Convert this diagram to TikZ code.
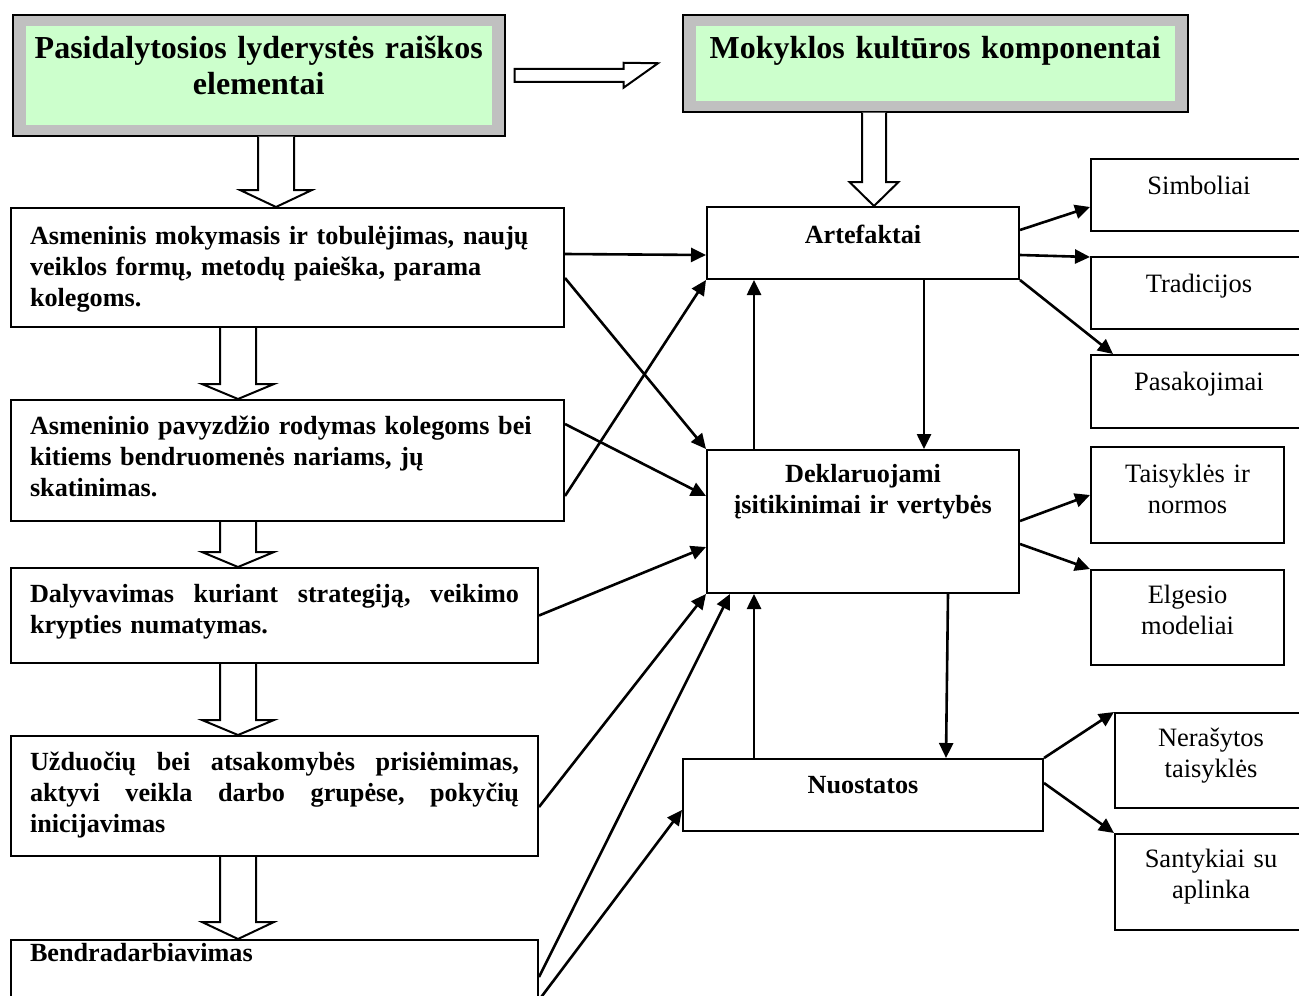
\documentclass[tikz,border=0pt]{standalone}
\usepackage{fontspec}
\setmainfont{Liberation Serif}
\usetikzlibrary{arrows.meta,positioning,calc}
\definecolor{framegray}{HTML}{C0C0C0}
\definecolor{mint}{HTML}{CCFFCC}

\begin{document}
\begin{tikzpicture}[x=1pt,y=-1pt,
lbox/.style={draw,line width=2pt,anchor=north west,inner xsep=19pt,inner ysep=0pt,text height=34pt,align=left,font=\bfseries\fontsize{26.2}{31}\selectfont},
cbox/.style={lbox,align=center,inner xsep=6pt},
tbox/.style={cbox,font=\fontsize{26.5}{31}\selectfont},
ttl/.style={draw,line width=1.5pt,fill=framegray,anchor=north west,inner xsep=14pt,inner ysep=0pt,text height=44pt,align=center,font=\bfseries\fontsize{32}{36}\selectfont,
  path picture={\fill[mint] ([shift={(13pt,-11pt)}]path picture bounding box.north west) rectangle ([shift={(-13pt,11pt)}]path picture bounding box.south east);}},
arr/.style={-{Triangle[length=15pt,width=14pt]},line width=2.6pt},
hollow/.style={draw,fill=white,line width=2pt,line join=miter}]
\useasboundingbox (0,0) rectangle (1299,996);
\node[ttl,text width=464pt,text depth=77pt] (tit1) at (12,14) {Pasidalytosios lyderystės raiškos\\elementai};
\node[ttl,text width=477pt,text depth=53pt] (tit2) at (682,14) {Mokyklos kultūros komponentai};
\node[lbox,text width=515pt,text height=36pt,text depth=83pt] (l1) at (10,207) {Asmeninis mokymasis ir tobulėjimas, naujų\\veiklos formų, metodų paieška, parama\\kolegoms.};
\node[lbox,text width=515pt,text depth=87pt,below=71pt of l1] (l2) {\makebox[515pt][l]{Asmeninio pavyzdžio rodymas kolegoms bei}\\kitiems bendruomenės nariams, jų\\skatinimas.};
\node[lbox,text width=489pt,text depth=61pt] (l3) at (10,567) {\makebox[489pt][s]{Dalyvavimas\hfill kuriant\hfill strategiją,\hfill veikimo}\\krypties numatymas.};
\node[lbox,text width=489pt,text depth=86pt,below=71pt of l3] (l4) {\makebox[489pt][s]{Užduočių\hfill bei\hfill atsakomybės\hfill prisiėmimas,}\\\makebox[489pt][s]{aktyvi\hfill veikla\hfill darbo\hfill grupėse,\hfill pokyčių}\\inicijavimas};
\node[lbox,text width=489pt,text height=21pt,text depth=59pt,below=82pt of l4] (l5) {Bendradarbiavimas};
\node[cbox,text width=300pt,text height=36pt,text depth=36pt] (art) at (706,206) {Artefaktai};
\node[cbox,text width=300pt,text height=32pt,text depth=111pt,below=169pt of art] (dek) {Deklaruojami\\įsitikinimai ir vertybės};
\node[cbox,text width=348pt,text depth=38pt] (nuo) at (682,758) {Nuostatos};
\node[tbox,text width=204pt,text height=35pt,text depth=37pt] (simb) at (1090,158) {Simboliai};
\node[tbox,text width=204pt,text height=35pt,text depth=37pt,below=24pt of simb] (trad) {Tradicijos};
\node[tbox,text width=204pt,text height=35pt,text depth=38pt,below=24pt of trad] (pasak) {Pasakojimai};
\node[tbox,text width=181pt,text height=35pt,text depth=61pt] (tais) at (1090,446) {Taisyklės ir\\normos};
\node[tbox,text width=181pt,text height=33pt,text depth=62pt,below=25pt of tais] (elg) {Elgesio\\modeliai};
\node[tbox,text width=180pt,text height=33pt,text depth=62pt] (ner) at (1114,712) {Nerašytos\\taisyklės};
\node[tbox,text width=180pt,text height=33pt,text depth=63pt,below=24pt of ner] (sant) {Santykiai su\\aplinka};
\foreach \src/\dst/\ax/\sw/\hw/\hl in {tit1/l1/276/18/36/17, l1/l2/238/18/36/15, l2/l3/238/18/36/15, l3/l4/238/18/36/15, l4/l5/238/18/36/17, tit2/art/874/12/24.5/24}{
  \coordinate (c) at (\ax,0);
  \draw[hollow] ($(c |- \src.south)+(-\sw,0)$) -- ($(c |- \dst.north)+(-\sw,-\hl)$) -- ($(c |- \dst.north)+(-\hw,-\hl)$) -- (c |- \dst.north) -- ($(c |- \dst.north)+(\hw,-\hl)$) -- ($(c |- \dst.north)+(\sw,-\hl)$) -- ($(c |- \src.south)+(\sw,0)$);
}
\draw[hollow] ($(tit1.east)+(9,-6.5)$) -- ($(tit1.east)+(118,-6.5)$) -- ($(tit1.east)+(118,-12.5)$) -- ($(tit2.west)+(-24,0)$) -- ($(tit1.east)+(118,12.5)$) -- ($(tit1.east)+(118,6.5)$) -- ($(tit1.east)+(9,6.5)$) -- cycle;
\draw[arr] ([yshift=-47pt]l1.north east) -- ([yshift=-12pt]art.west);
\draw[arr] ([yshift=-71pt]l1.north east) -- (dek.north west);
\draw[arr] ([yshift=-25pt]l2.north east) -- ([yshift=-47pt]dek.north west);
\draw[arr] ([yshift=-97pt]l2.north east) -- (art.south west);
\draw[arr] (l3.east) -- ([yshift=-98pt]dek.north west);
\draw[arr] ([yshift=-72pt]l4.north east) -- (dek.south west);
\draw[arr] ([yshift=-38pt]l5.north east) -- ([xshift=24pt]dek.south west);
\draw[arr] ([yshift=-61pt]l5.north east) -- ([yshift=-52pt]nuo.north west);
\draw[arr] ([xshift=48pt]dek.north west) -- ([xshift=48pt]art.south west);
\draw[arr] ([xshift=-96pt]art.south east) -- ([xshift=-96pt]dek.north east);
\draw[arr] ([xshift=72pt]nuo.north west) -- ([xshift=48pt]dek.south west);
\draw[arr] ([xshift=-72pt]dek.south east) -- ([xshift=264pt]nuo.north west);
\draw[arr] ([yshift=-24pt]art.north east) -- ([yshift=-49pt]simb.north west);
\draw[arr] ([yshift=-49pt]art.north east) -- ([yshift=-1pt]trad.north west);
\draw[arr] (art.south east) -- ([xshift=23pt]pasak.north west);
\draw[arr] ([yshift=-72pt]dek.north east) -- (tais.west);
\draw[arr] ([yshift=-95pt]dek.north east) -- (elg.north west);
\draw[arr] (nuo.north east) -- (ner.north west);
\draw[arr] ([yshift=-25pt]nuo.north east) -- (sant.north west);
\end{tikzpicture}
\end{document}
